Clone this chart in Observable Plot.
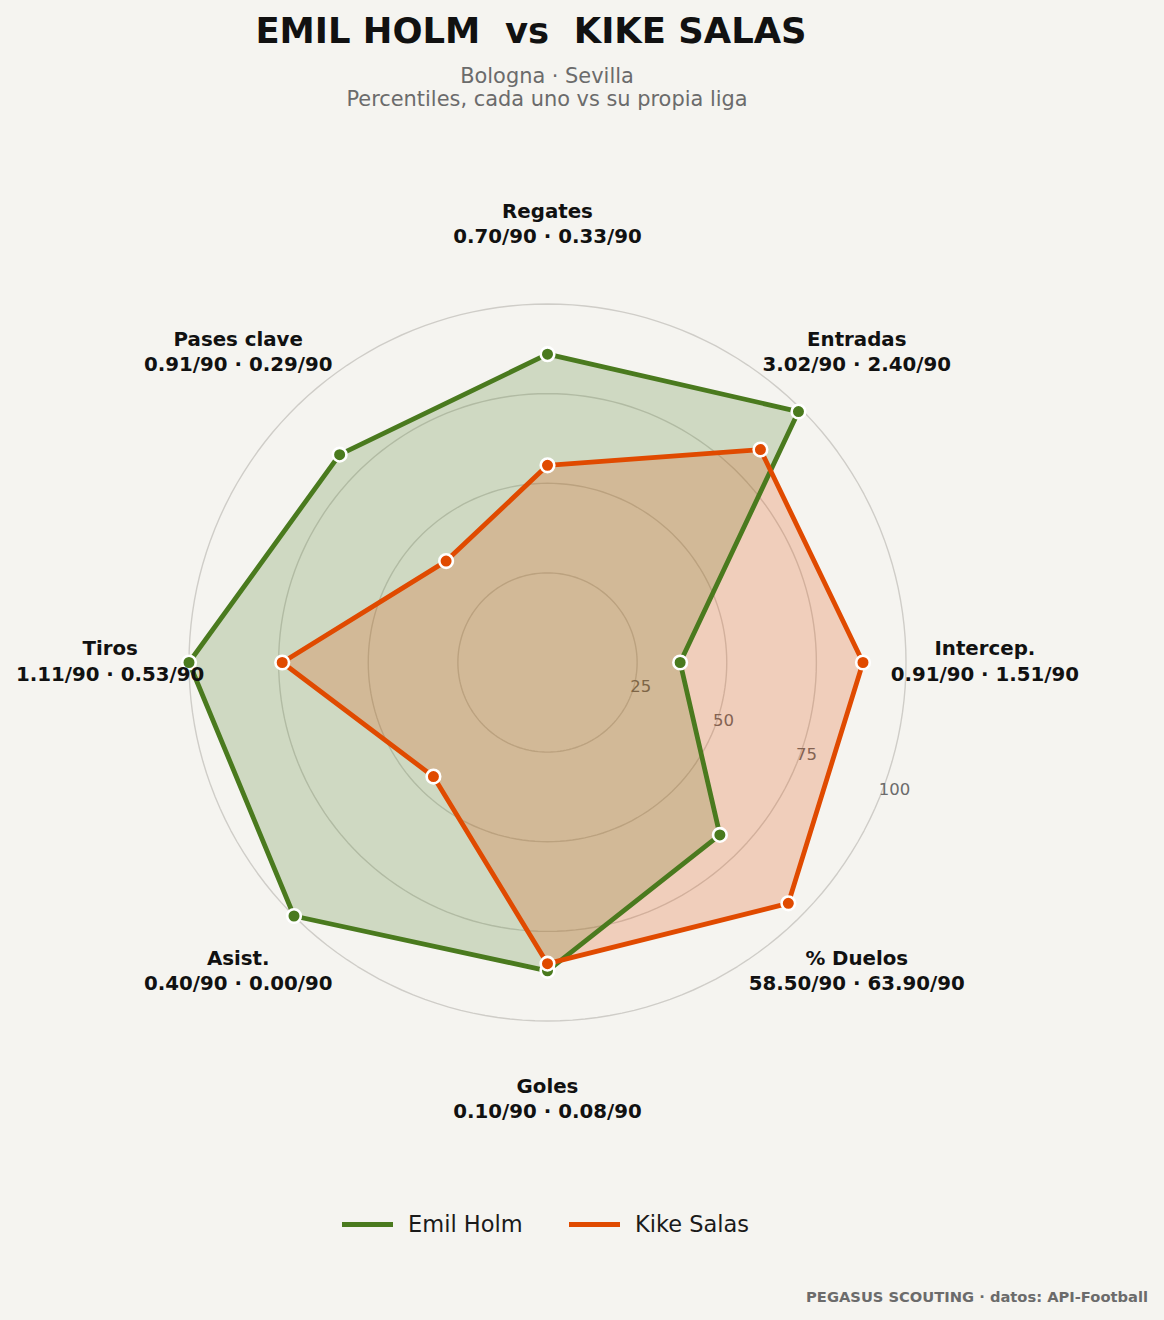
<!DOCTYPE html>
<html>
<head>
<meta charset="utf-8">
<script src="https://cdn.jsdelivr.net/npm/d3@7"></script>
<script src="https://cdn.jsdelivr.net/npm/@observablehq/plot@0.6"></script>
<style>
  html, body { margin: 0; padding: 0; background: #f5f4f0; }
  body { width: 1164px; height: 1320px; position: relative; overflow: hidden; font-family: "DejaVu Sans", sans-serif; }
  #title { position: absolute; left: 0; width: 1062px; top: 10px; text-align: center; font-weight: bold; font-size: 35.4px; color: #111; white-space: pre; line-height: 42px; }
  #subtitle { position: absolute; left: 0; width: 1094px; top: 65px; text-align: center; font-size: 20.9px; color: #6b6b6b; line-height: 23px; }
  #chart { position: absolute; left: 0; top: 120px; }
  #legend { position: absolute; left: 0; top: 1208px; width: 1164px; height: 32px; }
  .item { position: absolute; top: 0; height: 32px; display: flex; align-items: center; font-size: 22.5px; color: #1a1a1a; }
  .swatch { width: 51px; height: 5px; margin-right: 15px; }
  #footer { position: absolute; right: 16px; top: 1288px; font-weight: bold; font-size: 14.7px; color: #6b6b6b; }
</style>
</head>
<body>
<div id="title"></div>
<div id="subtitle"></div>
<div id="chart"></div>
<div id="legend"></div>
<div id="footer"></div>
<script>
// ---------- data ----------
const titleText = "EMIL HOLM  vs  KIKE SALAS";
const subtitleLines = ["Bologna · Sevilla", "Percentiles, cada uno vs su propia liga"];
const footerText = "PEGASUS SCOUTING · datos: API-Football";

const categories = ["Regates", "Entradas", "Intercep.", "% Duelos", "Goles", "Asist.", "Tiros", "Pases clave"];
const players = ["Emil Holm", "Kike Salas"];
const playerColors = ["#4a7a1e", "#e04a00"];

const holmPct  = [86, 99, 37, 68, 86, 100, 100, 82];
const salasPct = [55, 84, 88, 95, 84, 45, 74, 40];

const holmPer90  = ["0.70", "3.02", "0.91", "58.50", "0.10", "0.40", "1.11", "0.91"];
const salasPer90 = ["0.33", "2.40", "1.51", "63.90", "0.08", "0.00", "0.53", "0.29"];

const ringTicks = [25, 50, 75, 100];
const tickLabels = ["25", "50", "75", "100"];

// ---------- layout ----------
const W = 1164, H = 1060;
const cx = 547, cy = 542;           // centre inside the svg (px)
const pxPerUnit = 3.585;            // px per percentile point
const labelRadius = 122;            // percentile units
const tickAngle = 112.5 * Math.PI / 180;

const n = categories.length;
const ang = i => i * 2 * Math.PI / n;

const seriesValues = [holmPct, salasPct];
const rows = [];
players.forEach((p, k) => {
  seriesValues[k].forEach((v, i) => {
    rows.push({player: p, cat: categories[i], value: v, x: v * Math.sin(ang(i)), y: v * Math.cos(ang(i))});
  });
});

const ringPts = [];
ringTicks.forEach(t => {
  for (let a = 0; a <= 360; a += 2) {
    const r = a * Math.PI / 180;
    ringPts.push({tick: t, x: t * Math.sin(r), y: t * Math.cos(r)});
  }
});

const labelRows = categories.map((c, i) => ({
  text: c + "\n" + holmPer90[i] + "/90 · " + salasPer90[i] + "/90",
  x: labelRadius * Math.sin(ang(i)),
  y: labelRadius * Math.cos(ang(i))
}));

const tickRows = ringTicks.map((t, i) => ({
  text: tickLabels[i],
  x: t * Math.sin(tickAngle),
  y: t * Math.cos(tickAngle)
}));

const marks = [
  Plot.line(ringPts, {x: "x", y: "y", z: "tick", stroke: "#cfcdc8", strokeWidth: 1.4}),
  Plot.text(tickRows, {x: "x", y: "y", text: "text", textAnchor: "start", lineAnchor: "bottom", dy: -5, fill: "#6b6b6b", fontSize: 16.5})
];
const perPlayer = players.map(p => rows.filter(r => r.player === p));
players.forEach((p, k) => {
  marks.push(Plot.line(perPlayer[k], {x: "x", y: "y", curve: "linear-closed", fill: playerColors[k], fillOpacity: 0.22, stroke: "none"}));
});
players.forEach((p, k) => {
  marks.push(Plot.line(perPlayer[k], {x: "x", y: "y", curve: "linear-closed", stroke: playerColors[k], strokeWidth: 4.8}));
  marks.push(Plot.dot(perPlayer[k], {x: "x", y: "y", r: 6.8, fill: playerColors[k], stroke: "white", strokeWidth: 2.6}));
});
marks.push(Plot.text(labelRows, {x: "x", y: "y", text: "text", textAnchor: "middle", lineAnchor: "middle", lineHeight: 1.27, fontWeight: "bold", fontSize: 19.8, fill: "#111", dy: -2.5}));

const chart = Plot.plot({
  width: W,
  height: H,
  margin: 0,
  x: {domain: [-cx / pxPerUnit, (W - cx) / pxPerUnit], axis: null},
  y: {domain: [-(H - cy) / pxPerUnit, cy / pxPerUnit], axis: null},
  style: {background: "transparent", fontFamily: "DejaVu Sans, sans-serif", overflow: "visible"},
  marks
});
document.getElementById("chart").appendChild(chart);

// ---------- titles, legend, footer ----------
document.getElementById("title").textContent = titleText;
document.getElementById("subtitle").innerHTML = subtitleLines.map(s => `<div>${s}</div>`).join("");
document.getElementById("footer").textContent = footerText;

const legend = document.getElementById("legend");
const legendLefts = [342, 569];
players.forEach((p, k) => {
  const it = document.createElement("div");
  it.className = "item";
  it.style.left = legendLefts[k] + "px";
  it.innerHTML = `<span class="swatch" style="background:${playerColors[k]}"></span><span>${p}</span>`;
  legend.appendChild(it);
});
</script>
</body>
</html>
